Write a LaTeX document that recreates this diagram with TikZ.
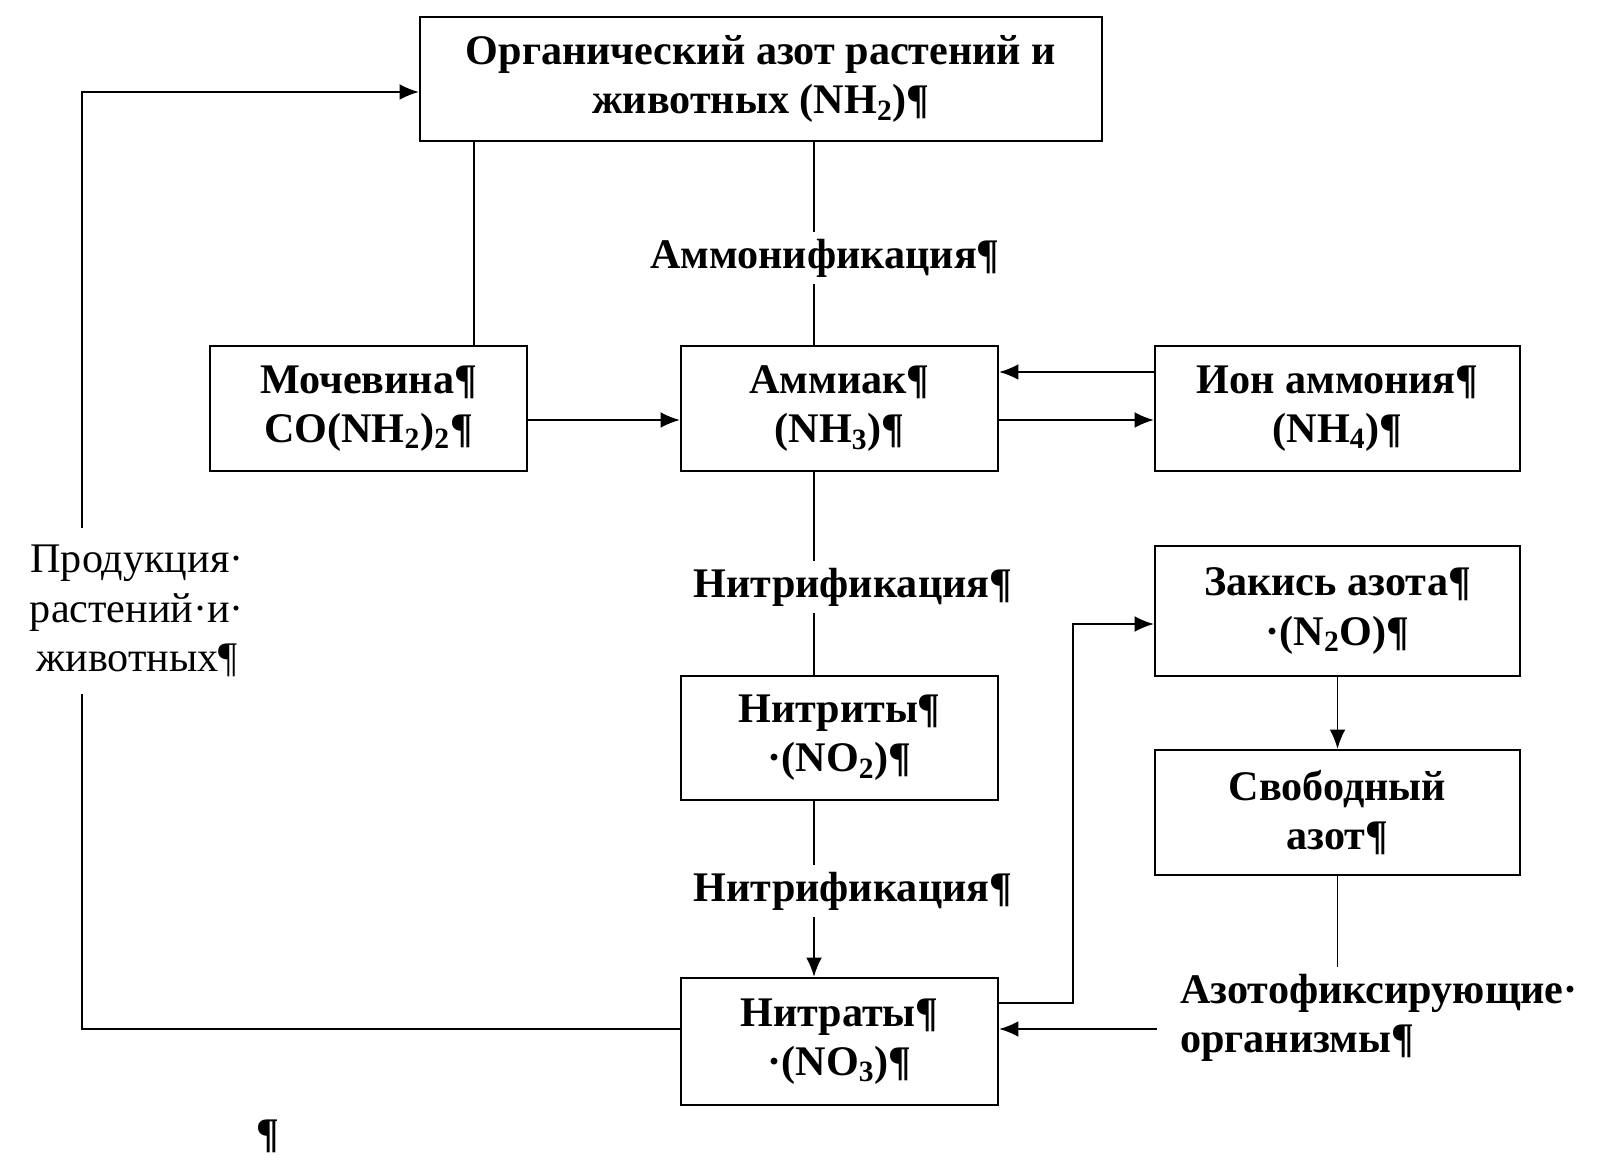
\documentclass[tikz,border=0pt]{standalone}
\usepackage{fontspec}
\setmainfont{Liberation Serif}
\usepackage{tikz}
\usepackage{tkz-euclide}
\usetikzlibrary{arrows.meta}

\begin{document}
\begin{tikzpicture}[
  caixa/.style={draw, line width=1.3pt, minimum height=2.5cm, align=center, inner sep=0pt,
    font=\fontsize{24}{28}\selectfont\bfseries},
  rotulo/.style={fill=white, align=center, inner sep=4pt,
    font=\fontsize{24}{28}\selectfont\bfseries},
  seta/.style={line width=1pt, -{Latex[length=11pt,width=9pt]}},
  linha/.style={line width=1pt}] %estilos das caixas, rotulos e setas

\useasboundingbox (0,0) rectangle (32.1,23.34);

%O comando \tkzDefPoints define os centros das caixas e dos rotulos (x/y/NomedoPonto)
\tkzDefPoints{
15.22/21.76/A,
7.37/15.17/B,
16.79/15.17/C,
26.75/15.17/D,
26.75/11.12/E,
26.75/7.09/F,
16.79/8.58/G,
16.79/2.51/H,
16.50/18.18/M,
17.06/11.60/N,
17.06/5.52/O,
23.14/2.98/P,
2.74/11.12/Q,
5.36/0.62/R}

%Colunas e linhas auxiliares por onde passam os conectores
\tkzDefPoints{
9.48/0/I,
16.28/0/J,
21.46/0/K,
1.64/0/L,
0/14.94/U,
0/15.90/V,
0/3.28/W,
0/10.86/X,
0/2.76/Y,
0/21.50/Z}

%Caixas do ciclo do azoto. Cada caixa tem o seu nome e largura propria.
%---------------------------------------------------
\node[caixa, minimum width=13.64cm, minimum height=2.48cm] (org) at (A) {Органический азот растений и\\животных (NH\textsubscript{2})¶};
\node[caixa, minimum width=6.34cm] (moch) at (B) {Мочевина¶\\CO(NH\textsubscript{2})\textsubscript{2}¶};
\node[caixa, minimum width=6.34cm] (amm) at (C) {Аммиак¶\\(NH\textsubscript{3})¶};
\node[caixa, minimum width=7.3cm] (ion) at (D) {Ион аммония¶\\(NH\textsubscript{4})¶};
\node[caixa, minimum width=7.3cm, minimum height=2.6cm] (zak) at (E) {Закись азота¶\\·(N\textsubscript{2}O)¶};
\node[caixa, minimum width=7.3cm] (svob) at (F) {Свободный\\азот¶};
\node[caixa, minimum width=6.34cm, minimum height=2.48cm] (nitri) at (G) {Нитриты¶\\·(NO\textsubscript{2})¶};
\node[caixa, minimum width=6.34cm, minimum height=2.54cm] (nitra) at (H) {Нитраты¶\\·(NO\textsubscript{3})¶};
%---------------------------------------------------

%Rotulo livre a direita, alinhado a esquerda, de onde sai a seta para os nitratos.
%---------------------------------------------------
\node[anchor=west, align=left, inner xsep=13pt, inner ysep=4pt,
  font=\fontsize{24}{28}\selectfont\bfseries] (azf) at (P) {Азотофиксирующие·\\организмы¶};
%---------------------------------------------------

%Linhas simples, sem seta, entre as caixas de cima.
%---------------------------------------------------
\draw[linha] (org.south -| I) -- (moch.north -| I);
\draw[linha] (org.south -| J) -- (amm.north -| J);
\draw[linha] (amm.south -| J) -- (nitri.north -| J);
%---------------------------------------------------

%Setas horizontais entre a ureia, a amonia e o ion amonio.
%---------------------------------------------------
\draw[seta] (moch.east |- U) -- (amm.west |- U);
\draw[seta] (amm.east |- U) -- (ion.west |- U);
\draw[seta] (ion.west |- V) -- (amm.east |- V);
%---------------------------------------------------

%Setas verticais e a volta dos nitratos para o oxido nitroso.
%---------------------------------------------------
\draw[seta] (nitri.south -| J) -- (nitra.north -| J);
\draw[seta] (nitra.east |- W) -| (K |- X) -- (zak.west |- X);
\draw[seta] (zak.south) -- (svob.north);
\draw[linha] (svob.south) -- (svob.south |- azf.north);
\draw[seta] (azf.west |- Y) -- (nitra.east |- Y);
%---------------------------------------------------

%Grande volta da esquerda, dos nitratos ate a caixa de cima.
%---------------------------------------------------
\draw[seta] (nitra.west |- Y) -| (L |- Z) -- (org.west |- Z);
%---------------------------------------------------

%Rotulos sobre as linhas, com fundo branco para cortar a linha.
%---------------------------------------------------
\node[rotulo] (amf) at (M) {Аммонификация¶};
\node[rotulo] (nf1) at (N) {Нитрификация¶};
\node[rotulo] (nf2) at (O) {Нитрификация¶};
\node[rotulo, font=\fontsize{24}{28}\selectfont, inner ysep=10pt] (prod) at (Q) {Продукция·\\растений·и·\\животных¶};
\node[font=\fontsize{24}{28}\selectfont\bfseries] (par) at (R) {¶};
%---------------------------------------------------

\end{tikzpicture}
\end{document}
